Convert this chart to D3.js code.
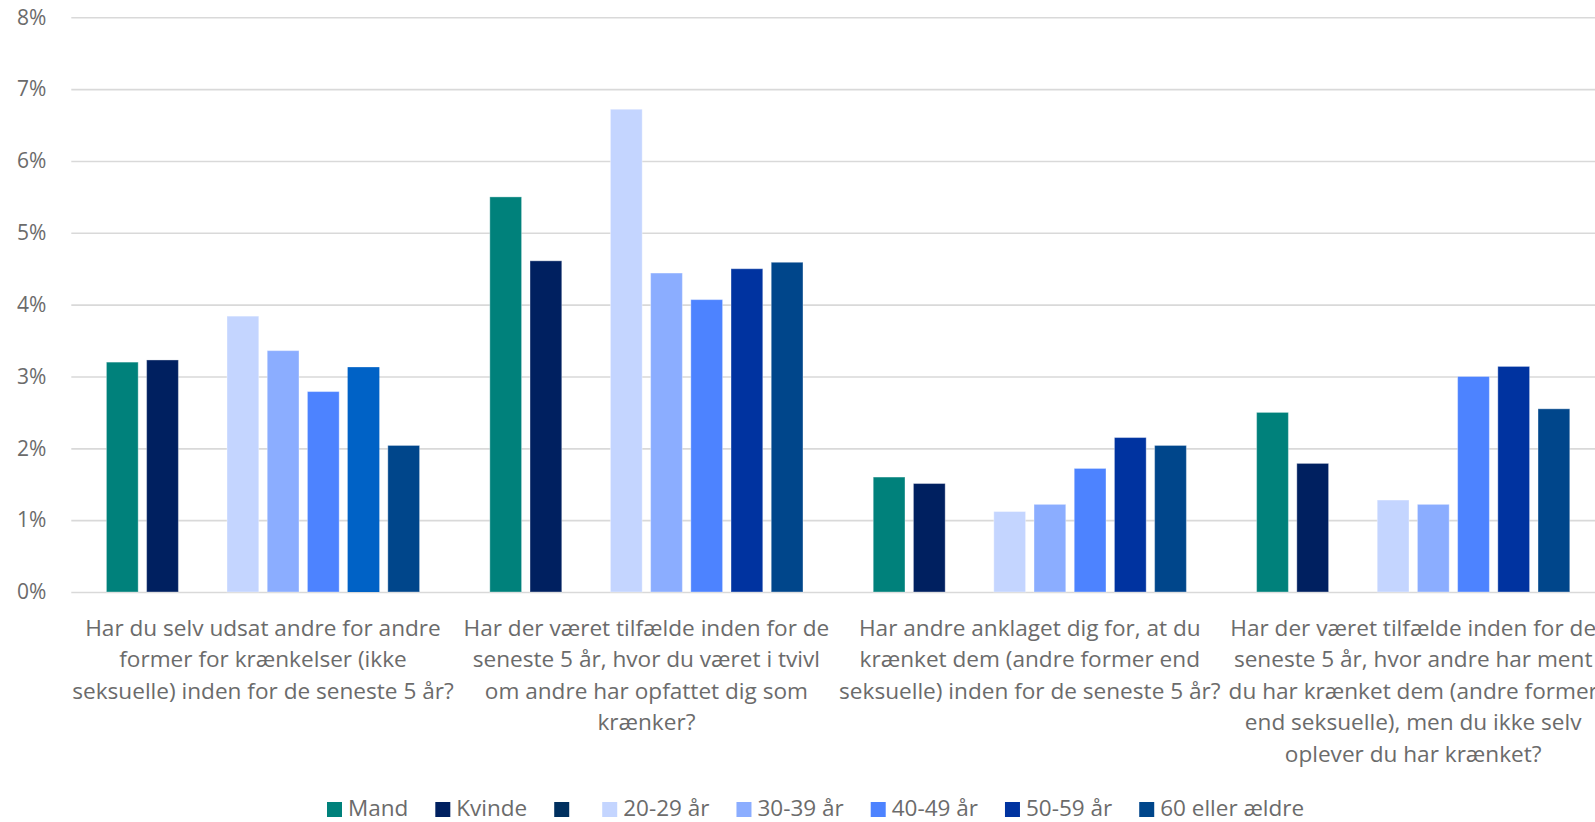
<!DOCTYPE html>
<html>
<head>
<meta charset="utf-8">
<script src="https://cdn.jsdelivr.net/npm/d3@7"></script>
<style>
  html, body { margin: 0; padding: 0; background: #ffffff; overflow: hidden; }
  svg { display: block; }
  text { font-family: "Open Sans", "Noto Sans", sans-serif; }
</style>
</head>
<body>
<svg id="chart" width="1595" height="822"></svg>
<script>
// ---------- DATA ----------
const categories = ["Q1", "Q2", "Q3", "Q4"];
const categoryLines = [
  ["Har du selv udsat andre for andre", "former for krænkelser (ikke", "seksuelle) inden for de seneste 5 år?"],
  ["Har der været tilfælde inden for de", "seneste 5 år, hvor du været i tvivl", "om andre har opfattet dig som", "krænker?"],
  ["Har andre anklaget dig for, at du", "krænket dem (andre former end", "seksuelle) inden for de seneste 5 år?"],
  ["Har der været tilfælde inden for de", "seneste 5 år, hvor andre har ment", "du har krænket dem (andre former", "end seksuelle), men du ikke selv", "oplever du har krænket?"]
];
const seriesNames = ["Mand", "Kvinde", "", "20-29 år", "30-39 år", "40-49 år", "50-59 år", "60 eller ældre"];
const mand    = [0.0320, 0.0550, 0.0160, 0.0250];
const kvinde  = [0.0323, 0.0461, 0.0151, 0.0179];
const blank   = [null, null, null, null];
const age2029 = [0.0384, 0.0672, 0.0112, 0.0128];
const age3039 = [0.0336, 0.0444, 0.0122, 0.0122];
const age4049 = [0.0279, 0.0407, 0.0172, 0.0300];
const age5059 = [0.0313, 0.0450, 0.0215, 0.0314];
const age60   = [0.0204, 0.0459, 0.0204, 0.0255];
const yTicks  = [0, 0.01, 0.02, 0.03, 0.04, 0.05, 0.06, 0.07, 0.08];

const seriesValues = [mand, kvinde, blank, age2029, age3039, age4049, age5059, age60];
const seriesColors = ["#00817B", "#002060", "#00305F", "#C4D5FF", "#8BADFF", "#4D83FF", "#0033A0", "#00468B"];
// single point colour override (first category, 50-59 år)
const pointOverride = { series: 6, cat: 0, color: "#0062C6" };

// ---------- LAYOUT ----------
const svg = d3.select("#chart");
const plotLeft = 71.3, band = 383.4;
const x0 = d3.scaleBand().domain(categories).range([plotLeft, plotLeft + band * categories.length]).padding(0);
const step = 40.2;
const x1 = d3.scaleBand().domain(d3.range(seriesNames.length))
  .range([(band - step * seriesNames.length) / 2, (band + step * seriesNames.length) / 2])
  .paddingInner(0.21).paddingOuter(0.105);
const y = d3.scaleLinear().domain([0, 0.08]).range([592, 17.3]);

// gridlines + y labels
const yAxis = d3.axisLeft(y).tickValues(yTicks).tickFormat(d3.format(".0%"))
  .tickSizeInner(-(band * categories.length)).tickSizeOuter(0).tickPadding(25);
const gy = svg.append("g").attr("transform", `translate(${plotLeft},0)`).call(yAxis);
gy.select(".domain").remove();
gy.selectAll(".tick line").attr("stroke", "#d9d9d9").attr("stroke-width", 1.6);
gy.selectAll(".tick text").attr("fill", "#6b6b6b").style("font-size", "21px")
  .style("font-family", "'Open Sans', sans-serif");

// bars
const data = [];
categories.forEach((c, ci) => {
  seriesValues.forEach((vals, si) => {
    if (vals[ci] != null) data.push({ c, ci, si, v: vals[ci] });
  });
});
svg.append("g").selectAll("rect").data(data).join("rect")
  .attr("x", d => x0(d.c) + x1(d.si))
  .attr("width", x1.bandwidth())
  .attr("y", d => y(d.v))
  .attr("height", d => y(0) - y(d.v))
  .attr("fill", d => (d.si === pointOverride.series && d.ci === pointOverride.cat) ? pointOverride.color : seriesColors[d.si])
  .attr("stroke", d => (d.si === pointOverride.series && d.ci === pointOverride.cat) ? "none" : "#ffffff")
  .attr("stroke-opacity", 0.35)
  .attr("stroke-width", 1);

// x category labels
const xl = svg.append("g");
categories.forEach((c, ci) => {
  const cx = x0(c) + x0.bandwidth() / 2;
  const t = xl.append("text").attr("text-anchor", "middle").attr("fill", "#6b6b6b")
    .style("font-size", "22.6px");
  categoryLines[ci].forEach((line, li) => {
    t.append("tspan").attr("x", cx).attr("y", 635.5 + li * 31.5).text(line);
  });
});

// legend
const lg = svg.append("g");
let lx = 327;
const ly = 815.5;
seriesNames.forEach((name, si) => {
  lg.append("rect").attr("x", lx).attr("y", ly - 13.5).attr("width", 15).attr("height", 15)
    .attr("fill", seriesColors[si]);
  const t = lg.append("text").attr("x", lx + 21).attr("y", ly).attr("fill", "#6b6b6b")
    .style("font-size", "22.5px").text(name);
  const w = name ? t.node().getComputedTextLength() : 0;
  lx += 21 + w + 27;
});
</script>
</body>
</html>
